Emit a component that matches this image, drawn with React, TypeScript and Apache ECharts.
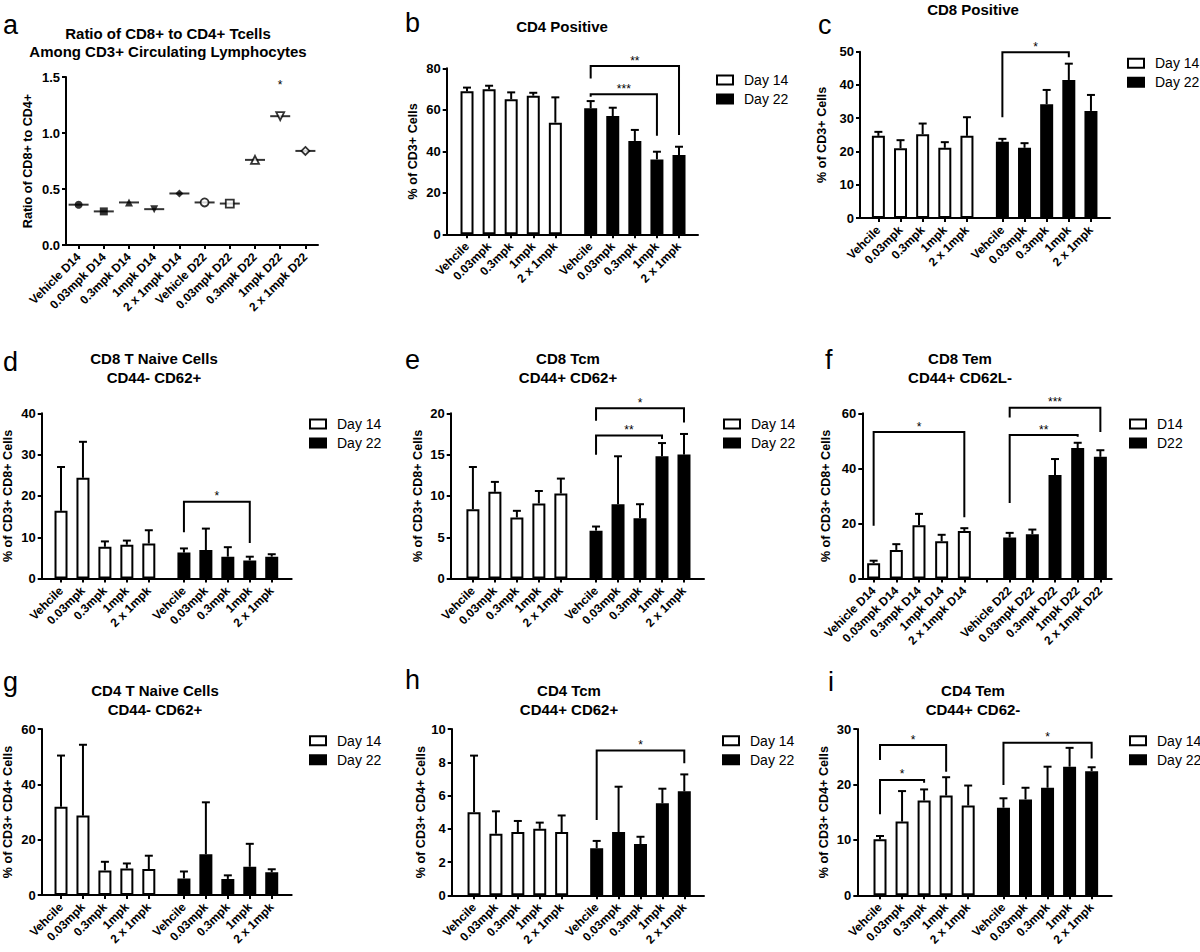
import React, { useEffect, useRef } from "react";
import * as echarts from "echarts";

const FONT = '"Liberation Sans", Arial, Helvetica, sans-serif';

// ---------------- DATA ----------------
// Panel a
const ratioCategories = ["Vehicle D14", "0.03mpk D14", "0.3mpk D14", "1mpk D14", "2 x 1mpk D14", "Vehicle D22", "0.03mpk D22", "0.3mpk D22", "1mpk D22", "2 x 1mpk D22"];
const ratioValues = [0.36, 0.3, 0.38, 0.32, 0.46, 0.38, 0.37, 0.76, 1.15, 0.84];
const ratioStarPoints = [[8, 1.43]];
const ratioStarLabels = ["*"];
const ratioTicks = [0, 1.5, 0.5];

// Shared labels
const doseLabels = ["Vehcile", "0.03mpk", "0.3mpk", "1mpk", "2 x 1mpk", "Vehcile", "0.03mpk", "0.3mpk", "1mpk", "2 x 1mpk"];
const temLabels = ["Vehicle D14", "0.03mpk D14", "0.3mpk D14", "1mpk D14", "2 x 1mpk D14", "Vehicle D22", "0.03mpk D22", "0.3mpk D22", "1mpk D22", "2 x 1mpk D22"];
const dayNames = ["Day 14", "Day 22"];
const shortDayNames = ["D14", "D22"];

// Panel b: CD4 Positive
const cd4PosMean = [68.9, 69.9, 65.1, 66.8, 53.8, 60.7, 57.0, 45.0, 36.1, 38.2];
const cd4PosSem = [1.8, 1.7, 3.3, 1.4, 12.2, 3.5, 4.0, 5.3, 3.7, 4.0];
const cd4PosBrackets = [[5, 9, 81.1, 75.1, 47.8], [5, 8, 67.5, 66.3, 47.5]];
const cd4PosStars = ["**", "***"];

// Panel c: CD8 Positive
const cd8PosMean = [24.7, 21.0, 25.2, 21.1, 24.7, 22.9, 21.1, 34.2, 41.5, 32.2];
const cd8PosSem = [1.2, 2.4, 3.2, 1.7, 5.6, 0.9, 1.4, 4.3, 4.9, 4.8];
const cd8PosBrackets = [[5, 8, 49.8, 30.3, 48.3]];
const cd8PosStars = ["*"];

// Panel d: CD8 T naive
const cd8NaiveMean = [16.4, 24.4, 7.7, 8.2, 8.5, 6.3, 6.9, 5.3, 4.4, 5.3];
const cd8NaiveSem = [10.6, 8.7, 1.3, 1.0, 3.2, 1.0, 5.2, 2.3, 0.9, 0.6];
const cd8NaiveBrackets = [[5, 8, 18.6, 11.2, 8.6]];
const cd8NaiveStars = ["*"];

// Panel e: CD8 Tcm
const cd8TcmMean = [8.4, 10.5, 7.4, 9.1, 10.3, 5.8, 9.0, 7.3, 14.8, 15.0];
const cd8TcmSem = [5.1, 1.2, 0.8, 1.5, 1.8, 0.5, 5.8, 1.7, 1.6, 2.5];
const cd8TcmBrackets = [[5, 9, 20.6, 19.1, 18.9], [5, 8, 17.3, 15.0, 16.9]];
const cd8TcmStars = ["*", "**"];

// Panel f: CD8 Tem
const cd8TemMean = [5.6, 10.4, 19.4, 13.6, 17.3, 14.9, 16.1, 37.6, 47.4, 44.2];
const cd8TemSem = [0.9, 2.1, 4.1, 2.3, 1.0, 1.7, 1.7, 5.8, 1.9, 2.4];
const cd8TemBrackets = [[0, 4, 53.2, 19.2, 22.3], [5, 9, 62.0, 58.5, 53.2], [5, 8, 52.1, 27.4, 51.5]];
const cd8TemStars = ["*", "***", "**"];

// Panel g: CD4 T naive
const cd4NaiveMean = [31.9, 28.7, 8.9, 9.6, 9.4, 6.0, 14.7, 5.8, 10.2, 8.2];
const cd4NaiveSem = [18.5, 25.6, 3.1, 1.8, 4.8, 2.5, 18.8, 1.3, 8.3, 1.1];
const cd4NaiveBrackets: number[][] = [];
const cd4NaiveStars: string[] = [];

// Panel h: CD4 Tcm
const cd4TcmMean = [5.0, 3.7, 3.8, 4.0, 3.8, 2.83, 3.8, 3.08, 5.53, 6.25];
const cd4TcmSem = [3.4, 1.35, 0.67, 0.37, 1.0, 0.44, 2.73, 0.44, 0.88, 1.02];
const cd4TcmBrackets = [[5, 9, 8.7, 4.53, 7.94]];
const cd4TcmStars = ["*"];

// Panel i: CD4 Tem
const cd4TemMean = [10.1, 13.3, 17.1, 18.0, 16.2, 15.8, 17.3, 19.4, 23.2, 22.4];
const cd4TemSem = [0.6, 5.5, 2.0, 3.3, 3.6, 1.7, 2.1, 3.8, 3.4, 0.7];
const cd4TemBrackets = [[0, 3, 27.1, 24.4, 22.3], [0, 2, 20.8, 14.6, 20.3], [5, 9, 27.5, 19.9, 24.7]];
const cd4TemStars = ["*", "*", "*"];

// ---------------- PANEL SPECS (layout separate) ----------------
const barPanels = [
  { letter: "b", title: "CD4 Positive", yName: "% of CD3+ Cells", yMax: 80, yInterval: 20, labels: doseLabels, names: dayNames, means: cd4PosMean, sems: cd4PosSem, brackets: cd4PosBrackets, stars: cd4PosStars,
    L: { left: 446.7, top: 68.3, width: 251.3, height: 166, xMin: -0.92, xMax: 10.46, gap: 0.6, extra: [] as number[], nameGap: 27, legend: [716, 73], title: [562, 26], letterPos: [405, 23] } },
  { letter: "c", title: "CD8 Positive", yName: "% of CD3+ Cells", yMax: 50, yInterval: 10, labels: doseLabels, names: dayNames, means: cd8PosMean, sems: cd8PosSem, brackets: cd8PosBrackets, stars: cd8PosStars,
    L: { left: 860, top: 51.7, width: 250, height: 166.3, xMin: -0.83, xMax: 10.46, gap: 0.6, extra: [] as number[], nameGap: 31.5, legend: [1127, 56.3], title: [973, 9.5], letterPos: [818, 25] } },
  { letter: "d", title: "CD8 T Naive Cells\nCD44- CD62+", yName: "% of CD3+ CD8+ Cells", yMax: 40, yInterval: 10, labels: doseLabels, names: dayNames, means: cd8NaiveMean, sems: cd8NaiveSem, brackets: cd8NaiveBrackets, stars: cd8NaiveStars,
    L: { left: 41.7, top: 413.3, width: 250, height: 165.3, xMin: -0.88, xMax: 10.51, gap: 0.6, extra: [] as number[], nameGap: 27, legend: [309, 417], title: [154, 368], letterPos: [3, 362] } },
  { letter: "e", title: "CD8 Tcm\nCD44+ CD62+", yName: "% of CD3+ CD8+ Cells", yMax: 20, yInterval: 5, labels: doseLabels, names: dayNames, means: cd8TcmMean, sems: cd8TcmSem, brackets: cd8TcmBrackets, stars: cd8TcmStars,
    L: { left: 450.7, top: 413.3, width: 253.3, height: 165.3, xMin: -1.01, xMax: 10.51, gap: 0.6, extra: [] as number[], nameGap: 26, legend: [723, 417], title: [568, 368], letterPos: [405, 360] } },
  { letter: "f", title: "CD8 Tem\nCD44+ CD62L-", yName: "% of CD3+ CD8+ Cells", yMax: 60, yInterval: 20, labels: temLabels, names: shortDayNames, means: cd8TemMean, sems: cd8TemSem, brackets: cd8TemBrackets, stars: cd8TemStars,
    L: { left: 862.3, top: 413.3, width: 249.4, height: 165.3, xMin: -0.5, xMax: 10.5, gap: 1, extra: [5], nameGap: 29.5, legend: [1129, 417], title: [960, 368], letterPos: [825, 360] } },
  { letter: "g", title: "CD4 T Naive Cells\nCD44- CD62+", yName: "% of CD3+ CD4+ Cells", yMax: 60, yInterval: 20, labels: doseLabels, names: dayNames, means: cd4NaiveMean, sems: cd4NaiveSem, brackets: cd4NaiveBrackets, stars: cd4NaiveStars,
    L: { left: 41.7, top: 729, width: 250, height: 166, xMin: -0.88, xMax: 10.51, gap: 0.6, extra: [] as number[], nameGap: 27, legend: [309, 733.7], title: [155, 700], letterPos: [3, 682] } },
  { letter: "h", title: "CD4 Tcm\nCD44+ CD62+", yName: "% of CD3+ CD4+ Cells", yMax: 10, yInterval: 2, labels: doseLabels, names: dayNames, means: cd4TcmMean, sems: cd4TcmSem, brackets: cd4TcmBrackets, stars: cd4TcmStars,
    L: { left: 451.7, top: 729, width: 252.3, height: 166.3, xMin: -1.02, xMax: 10.5, gap: 0.6, extra: [] as number[], nameGap: 23, legend: [722, 733.7], title: [569, 700], letterPos: [405, 680] } },
  { letter: "i", title: "CD4 Tem\nCD44+ CD62-", yName: "% of CD3+ CD4+ Cells", yMax: 30, yInterval: 10, labels: doseLabels, names: dayNames, means: cd4TemMean, sems: cd4TemSem, brackets: cd4TemBrackets, stars: cd4TemStars,
    L: { left: 857.3, top: 729, width: 254.4, height: 166.3, xMin: -1.03, xMax: 10.51, gap: 0.6, extra: [] as number[], nameGap: 27, legend: [1129, 733.7], title: [973, 700], letterPos: [828, 682] } },
];

const markerSymbols = ["circle", "rect", "triangle", "triangle", "diamond", "circle", "rect", "triangle", "triangle", "diamond"];
const markerRotations = [0, 0, 0, 180, 0, 0, 0, 0, 180, 0];

// ---------------- HELPERS ----------------
const axisLabelStyle = { fontFamily: FONT, fontWeight: "bold" as const, color: "#000" };

function lineStyle() {
  return { stroke: "#000", lineWidth: 2, fill: "none" };
}

function errorRender(_params: any, api: any) {
  const x = api.value(0);
  const a = api.coord([x, api.value(1)]);
  const b = api.coord([x, api.value(2)]);
  return {
    type: "group",
    children: [
      { type: "line", shape: { x1: a[0], y1: a[1], x2: b[0], y2: b[1] }, style: lineStyle() },
      { type: "line", shape: { x1: b[0] - 4, y1: b[1], x2: b[0] + 4, y2: b[1] }, style: lineStyle() },
    ],
  };
}

function starText(x: number, y: number, text: string) {
  return {
    type: "text",
    x,
    y,
    style: { text, fontFamily: FONT, fontSize: 12, fill: "#000", textAlign: "center", align: "center", textVerticalAlign: "middle", verticalAlign: "middle" },
  };
}

function makeBracketRender(stars: string[]) {
  return (params: any, api: any) => {
    const x1 = api.value(0), x2 = api.value(1), t = api.value(2), l = api.value(3), r = api.value(4);
    const a = api.coord([x1, l]);
    const b = api.coord([x1, t]);
    const c = api.coord([x2, t]);
    const d = api.coord([x2, r]);
    return {
      type: "group",
      children: [
        { type: "polyline", shape: { points: [a, b, c, d] }, style: lineStyle() },
        starText((b[0] + c[0]) / 2, b[1] - 5.5, stars[params.dataIndex]),
      ],
    };
  };
}

function yAxisFor(gi: number, max: number, interval: number, name: string, nameGap: number, fmt?: (v: number) => string) {
  return {
    type: "value",
    gridIndex: gi,
    min: 0,
    max,
    interval,
    name,
    nameLocation: "middle",
    nameGap,
    nameTextStyle: { ...axisLabelStyle, fontSize: 12.6 },
    axisLine: { show: true, onZero: false, lineStyle: { color: "#000", width: 2 } },
    axisTick: { show: true, length: 4, lineStyle: { color: "#000", width: 2 } },
    axisLabel: { ...axisLabelStyle, fontSize: 13, margin: 6, formatter: fmt },
    splitLine: { show: false },
  };
}

function titleGraphic(x: number, y: number, text: string) {
  return {
    type: "text",
    x,
    y,
    style: { text, fontFamily: FONT, fontWeight: "bold", fontSize: 15, lineHeight: 18.5, fill: "#000", textAlign: "center", align: "center", textVerticalAlign: "middle", verticalAlign: "middle" },
  };
}

function letterGraphic(x: number, y: number, text: string) {
  return {
    type: "text",
    x,
    y,
    style: { text, fontFamily: FONT, fontSize: 27, fill: "#000", textAlign: "left", align: "left", textVerticalAlign: "middle", verticalAlign: "middle" },
  };
}

function buildOption() {
  const grid: any[] = [];
  const xAxis: any[] = [];
  const yAxis: any[] = [];
  const series: any[] = [];
  const legend: any[] = [];
  const graphic: any[] = [];

  // ---- Panel a ----
  grid.push({ left: 66, top: 77, width: 252, height: 168, containLabel: false });
  xAxis.push({
    type: "category",
    gridIndex: 0,
    data: ratioCategories,
    boundaryGap: true,
    axisLine: { show: true, onZero: false, lineStyle: { color: "#000", width: 2 } },
    axisTick: { show: true, alignWithLabel: true, length: 4, lineStyle: { color: "#000", width: 2 } },
    axisLabel: { ...axisLabelStyle, fontSize: 12, rotate: 45, interval: 0, margin: 10 },
    splitLine: { show: false },
  });
  yAxis.push(yAxisFor(0, ratioTicks[1], ratioTicks[2], "Ratio of CD8+ to CD4+", 32, (v: number) => v.toFixed(1)));
  series.push({
    type: "scatter",
    xAxisIndex: 0,
    yAxisIndex: 0,
    symbol: "rect",
    symbolSize: [20, 2],
    itemStyle: { color: "#000" },
    data: ratioValues,
    z: 2,
    silent: true,
  });
  series.push({
    type: "scatter",
    xAxisIndex: 0,
    yAxisIndex: 0,
    symbolSize: 8,
    z: 3,
    silent: true,
    data: ratioValues.map((v, i) => ({
      value: v,
      symbol: markerSymbols[i],
      symbolRotate: markerRotations[i],
      itemStyle: i < 5 ? { color: "#000" } : { color: "#fff", borderColor: "#000", borderWidth: 1.8 },
    })),
  });
  series.push({
    type: "custom",
    xAxisIndex: 0,
    yAxisIndex: 0,
    clip: false,
    silent: true,
    data: ratioStarPoints,
    encode: { x: 0, y: 1 },
    renderItem: (params: any, api: any) => {
      const p = api.coord([api.value(0), api.value(1)]);
      return starText(p[0], p[1], ratioStarLabels[params.dataIndex]);
    },
  });
  graphic.push(titleGraphic(168, 42.5, "Ratio of CD8+ to CD4+ Tcells\nAmong CD3+ Circulating Lymphocytes"));
  graphic.push(letterGraphic(3, 25, "a"));

  // ---- Bar panels ----
  barPanels.forEach((p, k) => {
    const gi = k + 1;
    const L = p.L;
    const pos = p.means.map((_, i) => (i < 5 ? i : i + L.gap));
    const tickVals = [...pos, ...L.extra].sort((a, b) => a - b);
    grid.push({ left: L.left, top: L.top, width: L.width, height: L.height, containLabel: false });
    xAxis.push({
      type: "value",
      gridIndex: gi,
      min: L.xMin,
      max: L.xMax,
      axisLine: { show: true, onZero: false, lineStyle: { color: "#000", width: 2 } },
      axisTick: { show: true, length: 4, lineStyle: { color: "#000", width: 2 }, customValues: tickVals },
      axisLabel: {
        ...axisLabelStyle,
        fontSize: 12,
        rotate: 45,
        margin: 10,
        customValues: pos,
        formatter: (v: number) => {
          const idx = pos.findIndex((q) => Math.abs(q - v) < 1e-6);
          return idx >= 0 ? p.labels[idx] : "";
        },
      },
      splitLine: { show: false },
    });
    yAxis.push(yAxisFor(gi, p.yMax, p.yInterval, p.yName, L.nameGap));

    series.push({
      type: "bar",
      name: p.names[0],
      xAxisIndex: gi,
      yAxisIndex: gi,
      barWidth: 13,
      barGap: "-100%",
      silent: true,
      data: pos.slice(0, 5).map((x, i) => [x, p.means[i]]),
      itemStyle: { color: "#fff", borderColor: "#000", borderWidth: 2 },
    });
    series.push({
      type: "bar",
      name: p.names[1],
      xAxisIndex: gi,
      yAxisIndex: gi,
      barWidth: 13,
      barGap: "-100%",
      silent: true,
      data: pos.slice(5).map((x, i) => [x, p.means[i + 5]]),
      itemStyle: { color: "#000", borderColor: "#000", borderWidth: 2 },
    });
    series.push({
      type: "custom",
      xAxisIndex: gi,
      yAxisIndex: gi,
      clip: false,
      silent: true,
      z: 3,
      data: pos.map((x, i) => [x, p.means[i], p.means[i] + p.sems[i]]),
      encode: { x: 0, y: [1, 2] },
      renderItem: errorRender,
    });
    if (p.brackets.length) {
      series.push({
        type: "custom",
        xAxisIndex: gi,
        yAxisIndex: gi,
        clip: false,
        silent: true,
        z: 4,
        data: p.brackets.map((b) => [pos[b[0]], pos[b[1]], b[2], b[3], b[4]]),
        encode: { x: [0, 1], y: [2, 3, 4] },
        renderItem: makeBracketRender(p.stars),
      });
    }
    legend.push({
      left: L.legend[0],
      top: L.legend[1],
      orient: "vertical",
      itemGap: 5,
      itemWidth: 16,
      itemHeight: 9,
      padding: 0,
      selectedMode: false,
      icon: "rect",
      data: [
        { name: p.names[0], itemStyle: { color: "#fff", borderColor: "#000", borderWidth: 2 } },
        { name: p.names[1], itemStyle: { color: "#000", borderColor: "#000", borderWidth: 2 } },
      ],
      textStyle: { fontFamily: FONT, fontSize: 14, color: "#000", padding: [0, 0, 0, 6] },
    });
    graphic.push(titleGraphic(L.title[0], L.title[1], p.title));
    graphic.push(letterGraphic(L.letterPos[0], L.letterPos[1], p.letter));
  });

  return {
    animation: false,
    backgroundColor: "#fff",
    textStyle: { fontFamily: FONT },
    grid,
    xAxis,
    yAxis,
    series,
    legend,
    graphic,
  };
}

export default function App() {
  const ref = useRef<HTMLDivElement>(null);
  useEffect(() => {
    if (!ref.current) return;
    const chart = echarts.init(ref.current, undefined, { renderer: "svg" });
    chart.setOption(buildOption() as any);
    return () => chart.dispose();
  }, []);
  return <div ref={ref} style={{ position: "fixed", left: 0, top: 0, width: 1200, height: 952, background: "#fff" }} />;
}
